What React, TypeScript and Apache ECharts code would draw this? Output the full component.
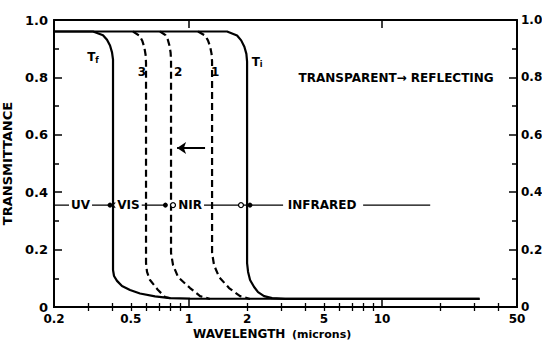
import React, { useEffect, useRef } from 'react';
import * as echarts from 'echarts';

// Transmittance curves: [wavelength (microns), transmittance]
const tfCurve: [number, number][] = [[0.2,0.96],[0.3185,0.96],[0.3588,0.947],[0.3763,0.931],[0.3901,0.911],[0.3995,0.887],[0.4043,0.862],[0.4043,0.129],[0.4092,0.108],[0.424,0.091],[0.45,0.073],[0.4952,0.059],[0.5579,0.047],[0.6673,0.037],[0.798,0.031],[1.013,0.029],[32,0.028]];
const curve3: [number, number][] = [[0.5132,0.96],[0.5546,0.945],[0.5728,0.928],[0.5873,0.905],[0.5964,0.878],[0.5993,0.85],[0.5993,0.153],[0.6065,0.122],[0.6285,0.094],[0.6916,0.059],[0.7516,0.035],[0.8174,0.029]];
const curve2: [number, number][] = [[0.7082,0.96],[0.7561,0.947],[0.7772,0.931],[0.7931,0.91],[0.8036,0.886],[0.8075,0.86],[0.8075,0.188],[0.8272,0.146],[0.8781,0.1045],[1.0132,0.066],[1.1416,0.038],[1.2861,0.028]];
const curve1: [number, number][] = [[1.1145,0.96],[1.2117,0.946],[1.2543,0.929],[1.2876,0.907],[1.3094,0.882],[1.3173,0.855],[1.3173,0.188],[1.349,0.146],[1.4322,0.1045],[1.6132,0.066],[1.8395,0.038],[2.0726,0.028]];
const tiCurve: [number, number][] = [[0.2,0.96],[1.5755,0.96],[1.7751,0.946],[1.8639,0.929],[1.9364,0.907],[1.9833,0.882],[2.0,0.855],[2.0,0.153],[2.024,0.122],[2.0726,0.094],[2.175,0.0697],[2.28,0.052],[2.449,0.038],[2.695,0.031],[3.148,0.028],[32,0.028]];

// Spectral band line
const bandLevel = 0.355;
const bandSegments: [number, number][] = [[0.2,0.242],[0.307,0.39],[0.551,0.755],[1.197,3.073],[7.98,17.76]];
const bandLabels: { name: string; x: number }[] = [
  { name: 'UV', x: 0.2744 },
  { name: 'VIS', x: 0.4864 },
  { name: 'NIR', x: 1.013 },
  { name: 'INFRARED', x: 4.893 },
];
const filledMarks = [0.39, 0.755, 2.07];
const openMarks = [0.419, 0.827, 1.86];

// Curve labels
const curveLabels: { text: string; x: number; y: number }[] = [
  { text: '{t|T}{s|f}', x: 0.3185, y: 0.871 },
  { text: '3', x: 0.5715, y: 0.819 },
  { text: '2', x: 0.8781, y: 0.819 },
  { text: '1', x: 1.365, y: 0.819 },
  { text: '{t|T}{s|i}', x: 2.254, y: 0.854 },
];
const noteText = 'TRANSPARENT→ REFLECTING';
const notePos: [number, number] = [3.674, 0.798];
const arrowLevel = 0.554;
const arrowFrom = 1.2117;
const arrowTo = 0.868;

// Axis ticks
const xLabelValues = [0.2, 0.5, 1, 2, 5, 10, 50];
const xMinorTicks = [0.3, 0.4, 0.5, 0.6, 0.7, 0.8, 0.9, 2, 3, 4, 5, 6, 7, 8, 9, 20, 30, 40];
const xMajorTicks = [1, 10];

const FONT = 'DejaVu Sans';
const BLACK = '#000';

export default function App() {
  const ref = useRef<HTMLDivElement>(null);
  useEffect(() => {
    document.body.style.margin = '0';
    const chart = echarts.init(ref.current!, null, { renderer: 'svg' });
    const baseX = {
      type: 'log' as const,
      logBase: 10,
      min: 0.2,
      max: 50,
      splitLine: { show: false },
      minorTick: { show: false },
      axisLine: { show: true, lineStyle: { color: BLACK, width: 2 } },
    };
    const lineSeries = (data: [number, number][], dashed: boolean, extra: any = {}) => ({
      type: 'line',
      data,
      symbol: 'none',
      silent: true,
      lineStyle: { color: BLACK, width: 2.2, type: dashed ? [7, 4] : 'solid' },
      z: 3,
      ...extra,
    });
    const textLabel = (formatter: string, position: string, bg: string, extra: any = {}) => ({
      show: true,
      position,
      distance: 0,
      formatter,
      color: BLACK,
      opacity: 1,
      fontFamily: FONT,
      fontWeight: 'bold',
      fontSize: 12,
      textBorderWidth: 0,
      backgroundColor: bg,
      rich: {
        t: { fontSize: 12, fontWeight: 'bold', fontFamily: FONT, color: BLACK },
        s: { fontSize: 8, fontWeight: 'bold', fontFamily: FONT, color: BLACK, padding: [6, 0, 0, 0] },
      },
      ...extra,
    });
    const series: any[] = [
      lineSeries(tfCurve, false),
      lineSeries(curve3, true),
      lineSeries(curve2, true),
      lineSeries(curve1, true),
      lineSeries(tiCurve, false, {
        markLine: {
          silent: true,
          symbol: ['none', 'arrow'],
          symbolSize: 9,
          label: { show: false },
          lineStyle: { color: BLACK, width: 2, type: 'solid', opacity: 1 },
          emphasis: { disabled: true },
          data: [[{ coord: [arrowFrom, arrowLevel] }, { coord: [arrowTo, arrowLevel] }]],
        },
      }),
      ...bandSegments.map((seg) => ({
        type: 'line',
        data: [[seg[0], bandLevel], [seg[1], bandLevel]],
        symbol: 'none',
        silent: true,
        lineStyle: { color: BLACK, width: 1.4 },
        z: 4,
      })),
      {
        type: 'scatter',
        data: filledMarks.map((x) => [x, bandLevel]),
        symbol: 'circle',
        symbolSize: 5,
        itemStyle: { color: BLACK, opacity: 1 },
        silent: true,
        z: 5,
      },
      {
        type: 'scatter',
        data: openMarks.map((x) => [x, bandLevel]),
        symbol: 'circle',
        symbolSize: 5,
        itemStyle: { color: '#fff', borderColor: BLACK, borderWidth: 1.3, opacity: 1 },
        silent: true,
        z: 5,
      },
      {
        type: 'scatter',
        silent: true,
        symbolSize: 1,
        itemStyle: { color: 'transparent', opacity: 1 },
        z: 6,
        data: [
          ...bandLabels.map((b) => ({
            value: [b.x, bandLevel],
            label: textLabel(b.name, 'inside', '#fff', { padding: [0, 2] }),
          })),
          ...curveLabels.map((c) => ({
            value: [c.x, c.y],
            label: textLabel(c.text, 'inside', 'transparent'),
          })),
          {
            value: notePos,
            label: textLabel(noteText, 'right', 'transparent'),
          },
        ],
      },
    ];

    const yBase = (pos: 'left' | 'right') => ({
      type: 'value' as const,
      position: pos,
      min: 0,
      max: 1,
      interval: 0.2,
      splitLine: { show: false },
      axisLine: { show: true, lineStyle: { color: BLACK, width: 2 } },
      axisTick: { show: true, inside: true, length: 8, lineStyle: { color: BLACK, width: 1.5 } },
      minorTick: { show: true, splitNumber: 2, length: 5, lineStyle: { color: BLACK, width: 1.5 } },
      axisLabel: {
        show: true,
        margin: pos === 'left' ? 6 : 4,
        color: BLACK,
        fontFamily: FONT,
        fontWeight: 'bold',
        fontSize: pos === 'left' ? 13 : 12,
        formatter: (v: number) => (v === 0 ? '0' : v.toFixed(1)),
      },
    });

    chart.setOption({
      animation: false,
      backgroundColor: '#fff',
      grid: { left: 54, right: 25, top: 20, bottom: 33, containLabel: false, outerBoundsMode: 'none' },
      xAxis: [
        {
          ...baseX,
          position: 'bottom',
          axisTick: { show: true, inside: true, length: 4, customValues: xMinorTicks, lineStyle: { color: BLACK, width: 1.3 } },
          axisLabel: {
            show: true,
            customValues: xLabelValues,
            margin: 6,
            color: BLACK,
            fontFamily: FONT,
            fontWeight: 'bold',
            fontSize: 12,
            formatter: (v: number) => String(v),
          },
        },
        {
          ...baseX,
          position: 'top',
          axisTick: { show: true, inside: true, length: 4, customValues: xMinorTicks, lineStyle: { color: BLACK, width: 1.3 } },
          axisLabel: { show: false },
        },
        {
          ...baseX,
          position: 'bottom',
          axisTick: { show: true, inside: true, length: 8, customValues: xMajorTicks, lineStyle: { color: BLACK, width: 1.5 } },
          axisLabel: { show: false },
        },
        {
          ...baseX,
          position: 'top',
          axisTick: { show: true, inside: true, length: 8, customValues: xMajorTicks, lineStyle: { color: BLACK, width: 1.5 } },
          axisLabel: { show: false },
        },
      ],
      yAxis: [
        {
          ...yBase('left'),
          name: 'TRANSMITTANCE',
          nameLocation: 'middle',
          nameGap: 33,
          nameTextStyle: { color: BLACK, fontFamily: FONT, fontWeight: 'bold', fontSize: 13 },
        },
        yBase('right'),
      ],
      graphic: [
        {
          type: 'text',
          left: 193,
          top: 328,
          style: {
            text: '{a|WAVELENGTH}  {b|(microns)}',
            rich: {
              a: { fontFamily: FONT, fontWeight: 'bold', fontSize: 12, fill: BLACK },
              b: { fontFamily: FONT, fontWeight: 'bold', fontSize: 11, fill: BLACK },
            },
          },
        },
      ],
      series,
    });
    return () => chart.dispose();
  }, []);
  return <div ref={ref} style={{ width: 542, height: 340 }} />;
}
